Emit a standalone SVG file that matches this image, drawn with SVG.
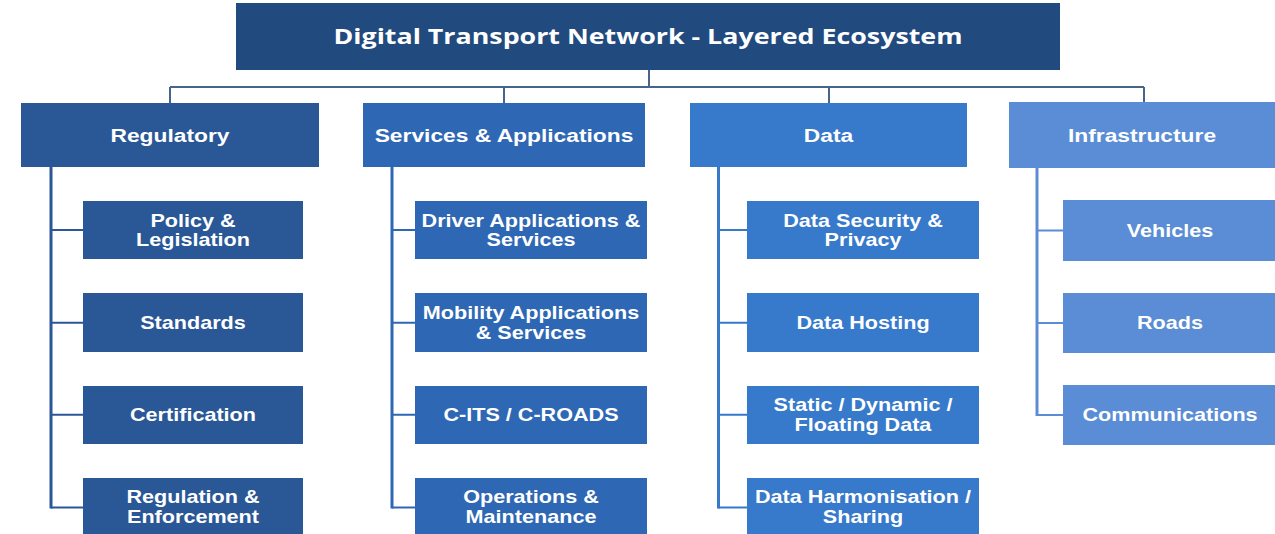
<svg xmlns="http://www.w3.org/2000/svg" width="1275" height="534" viewBox="0 0 1275 534">
<style>
.t{font-family:"Liberation Sans",Arial,sans-serif;font-weight:bold;fill:#fff;text-anchor:middle}
.c{font-size:19px}
.k{font-size:18px}
.title{font-family:"Open Sans","Liberation Sans",sans-serif;font-weight:bold;font-size:21px;fill:#fff;text-anchor:middle}
.top{stroke:#45648E;stroke-width:2;fill:none}
.lr{stroke:#2B5797;fill:none}
.ls{stroke:#2E67B3;fill:none}
.ld{stroke:#3778C9;fill:none}
.li{stroke:#5A8DD5;fill:none}
.trunk{stroke-width:3}
.br{stroke-width:2}
.fr{fill:#2A5796}
.fs{fill:#2E67B3}
.fd{fill:#3779CA}
.fi{fill:#5A8DD5}
</style>
<rect width="1275" height="534" fill="#fff"/>
<g id="connectors">
  <path class="top" d="M649 70V87M170 87H1144M170 87V103M504 87V103M829 87V103M1144 87V103"/>
  <path class="lr trunk" d="M51 167V508.5"/>
  <path class="lr br" d="M51 230H83M51 322.7H83M51 414.7H83M51 507.5H83"/>
  <path class="ls trunk" d="M392 167V508.5"/>
  <path class="ls br" d="M392 230H415M392 322.7H415M392 414.7H415M392 507.5H415"/>
  <path class="ld trunk" d="M718.5 167V508.5"/>
  <path class="ld br" d="M718.5 230H747M718.5 322.7H747M718.5 414.7H747M718.5 507.5H747"/>
  <path class="li trunk" d="M1037 167V416"/>
  <path class="li br" d="M1037 230.5H1063M1037 323H1063M1037 415H1063"/>
</g>
<g id="title">
  <rect x="236" y="3" width="824" height="67" fill="#214A7E"/>
  <text class="title" x="648" y="43.5" textLength="629" lengthAdjust="spacingAndGlyphs">Digital Transport Network - Layered Ecosystem</text>
</g>
<g id="regulatory">
  <rect class="fr" x="21" y="103" width="298" height="64"/>
  <text class="t c" transform="translate(170 141.7) scale(1.2 1)">Regulatory</text>
</g>
<g id="services">
  <rect class="fs" x="363" y="103" width="282" height="64"/>
  <text class="t c" transform="translate(504 141.7) scale(1.2 1)">Services &amp; Applications</text>
</g>
<g id="data">
  <rect class="fd" x="690" y="103" width="277" height="64"/>
  <text class="t c" transform="translate(828.5 141.7) scale(1.2 1)">Data</text>
</g>
<g id="infrastructure">
  <rect class="fi" x="1009" y="102" width="266" height="66"/>
  <text class="t c" transform="translate(1142 141.7) scale(1.2 1)">Infrastructure</text>
</g>
<g id="policy">
  <rect class="fr" x="83" y="201" width="220" height="58"/>
  <text class="t k" transform="translate(193 226.5) scale(1.2 1)"><tspan x="0">Policy &amp;</tspan><tspan x="0" dy="20">Legislation</tspan></text>
</g>
<g id="standards">
  <rect class="fr" x="83" y="293" width="220" height="59"/>
  <text class="t k" transform="translate(193 329.3) scale(1.2 1)">Standards</text>
</g>
<g id="certification">
  <rect class="fr" x="83" y="386" width="220" height="58"/>
  <text class="t k" transform="translate(193 421.3) scale(1.2 1)">Certification</text>
</g>
<g id="regulation">
  <rect class="fr" x="83" y="478" width="220" height="60"/>
  <text class="t k" transform="translate(193 503.3) scale(1.2 1)"><tspan x="0">Regulation &amp;</tspan><tspan x="0" dy="20">Enforcement</tspan></text>
</g>
<g id="driver">
  <rect class="fs" x="415" y="201" width="232" height="58"/>
  <text class="t k" transform="translate(531 226.5) scale(1.2 1)"><tspan x="0">Driver Applications &amp;</tspan><tspan x="0" dy="20">Services</tspan></text>
</g>
<g id="mobility">
  <rect class="fs" x="415" y="293" width="232" height="59"/>
  <text class="t k" transform="translate(531 319) scale(1.2 1)"><tspan x="0">Mobility Applications</tspan><tspan x="0" dy="20">&amp; Services</tspan></text>
</g>
<g id="cits">
  <rect class="fs" x="415" y="386" width="232" height="58"/>
  <text class="t k" transform="translate(531 421.3) scale(1.2 1)">C-ITS / C-ROADS</text>
</g>
<g id="operations">
  <rect class="fs" x="415" y="478" width="232" height="60"/>
  <text class="t k" transform="translate(531 503.3) scale(1.2 1)"><tspan x="0">Operations &amp;</tspan><tspan x="0" dy="20">Maintenance</tspan></text>
</g>
<g id="security">
  <rect class="fd" x="747" y="201" width="232" height="58"/>
  <text class="t k" transform="translate(863 226.5) scale(1.2 1)"><tspan x="0">Data Security &amp;</tspan><tspan x="0" dy="20">Privacy</tspan></text>
</g>
<g id="hosting">
  <rect class="fd" x="747" y="293" width="232" height="59"/>
  <text class="t k" transform="translate(863 329.3) scale(1.2 1)">Data Hosting</text>
</g>
<g id="static">
  <rect class="fd" x="747" y="386" width="232" height="58"/>
  <text class="t k" transform="translate(863 411) scale(1.2 1)"><tspan x="0">Static / Dynamic /</tspan><tspan x="0" dy="20">Floating Data</tspan></text>
</g>
<g id="harmonisation">
  <rect class="fd" x="747" y="478" width="232" height="60"/>
  <text class="t k" transform="translate(863 503.3) scale(1.2 1)"><tspan x="0">Data Harmonisation /</tspan><tspan x="0" dy="20">Sharing</tspan></text>
</g>
<g id="vehicles">
  <rect class="fi" x="1063" y="200" width="212" height="61"/>
  <text class="t k" transform="translate(1170 236.7) scale(1.2 1)">Vehicles</text>
</g>
<g id="roads">
  <rect class="fi" x="1063" y="293" width="212" height="60"/>
  <text class="t k" transform="translate(1170 329.3) scale(1.2 1)">Roads</text>
</g>
<g id="communications">
  <rect class="fi" x="1063" y="385" width="212" height="60"/>
  <text class="t k" transform="translate(1170 421) scale(1.2 1)">Communications</text>
</g>
</svg>
